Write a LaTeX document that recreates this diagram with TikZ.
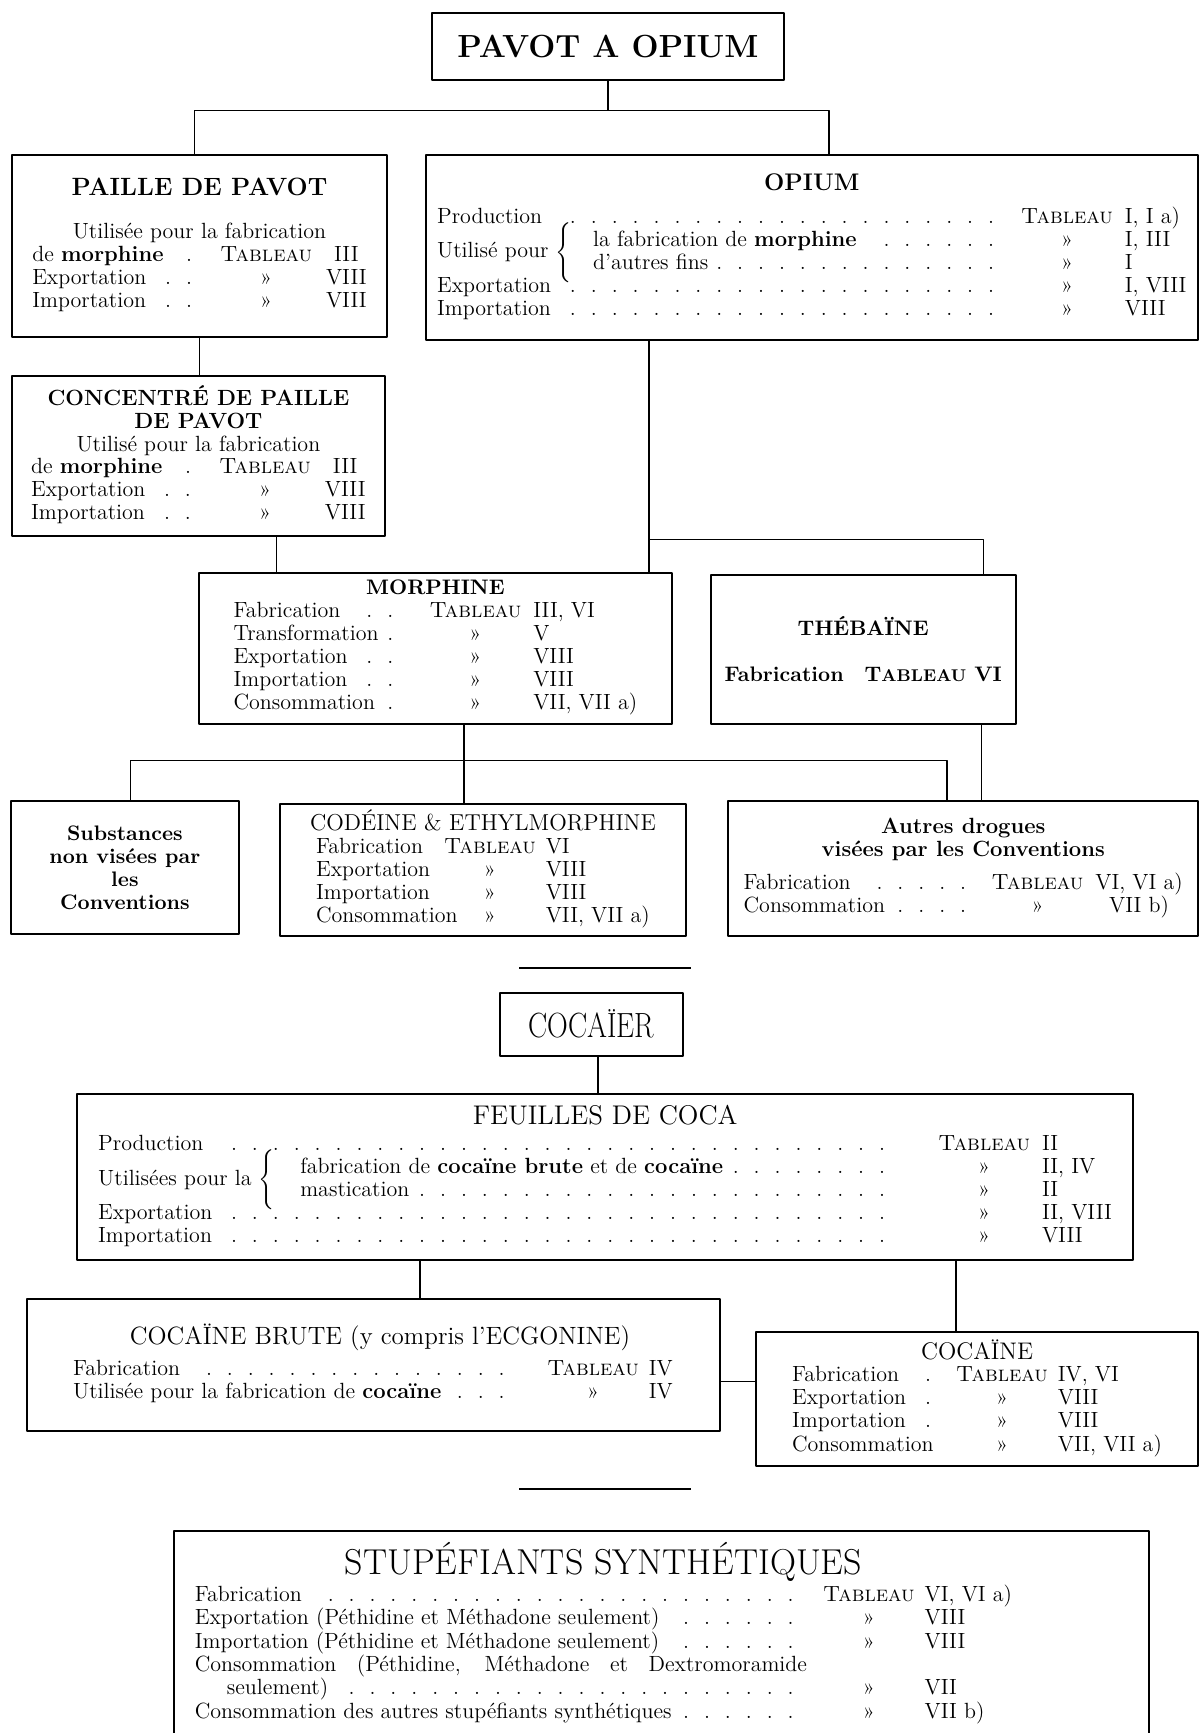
\documentclass[tikz,border=0pt]{standalone}
\usepackage{fontspec}
\usepackage{array}
\usepackage{graphicx}

\newcommand\dpx{0.5525pt}
\newcommand\lead{\leaders\hbox to 0.95em{\hss.\hss}\hfill\kern0pt}
\newcommand\tabl{\textsc{Tableau}}
\newcommand\btabl{T{\fontsize{8.5}{10}\selectfont ABLEAU}}
\newcommand\spbf[1]{{\bfseries\addfontfeature{LetterSpace=5}#1}}
\newcommand\twoway[2]{\makebox[#1][l]{\raisebox{-5.7pt}[0pt][0pt]{#2 $\left\{\vrule height 11pt depth 11pt width 0pt\right.$}}}

\begin{document}
\begin{tikzpicture}[
        x = 0.5525pt, y = -0.5525pt,
        line join = round,
        box/.style = {draw, line width = 1pt, inner sep = 0pt, align = center,
            font = \fontsize{11}{11.45}\selectfont},
        sz/.style 2 args = {minimum width = #1*\dpx, minimum height = #2*\dpx},
        link/.style = {line width = 0.8pt},
        rule/.style = {line width = 1.1pt}
    ]

    \useasboundingbox (0, 0) rectangle (1087, 1568);

    % opium branch
    \node[box, sz = {318}{60}] (pavot) at (550, 42)
        {\fontsize{16}{19}\selectfont\bfseries PAVOT A OPIUM};

    \node[box, sz = {339}{165}] (paille) at (180.5, 222.5) {%
        \begin{tabular}{@{}p{88pt}@{\hspace{6pt}}c@{\hspace{7pt}}c@{}}
            \multicolumn{3}{@{}c@{}}{\fontsize{12.5}{14}\selectfont\bfseries PAILLE DE PAVOT}\\[10pt]
            \multicolumn{3}{@{}c@{}}{Utilisée pour la fabrication}\\
            de \textbf{morphine}\lead & \tabl & III\\
            Exportation\lead & » & VIII\\
            Importation\lead & » & VIII
        \end{tabular}};

    \node[box, sz = {699}{168}] (opium) at (734.5, 224) {%
        \begin{tabular}{@{}p{286pt}@{\hspace{6pt}}c@{\hspace{6pt}}l@{}}
            \multicolumn{3}{@{}c@{}}{\fontsize{12}{14}\selectfont\bfseries OPIUM}\\[5pt]
            Production\lead & \tabl & I, I a)\\
            \twoway{78pt}{Utilisé pour}la fabrication de \textbf{morphine}\lead & » & I, III\\
            \hspace*{78pt}d'autres fins\lead & » & I\\
            Exportation\lead & » & I, VIII\\
            Importation\lead & » & VIII
        \end{tabular}};

    \node[box, sz = {337}{145}] (concentre) at (179.5, 412.5) {%
        \begin{tabular}{@{}p{86pt}@{\hspace{8pt}}c@{\hspace{7pt}}c@{}}
            \multicolumn{3}{@{}c@{}}{\bfseries CONCENTRÉ DE PAILLE}\\
            \multicolumn{3}{@{}c@{}}{\bfseries DE PAVOT}\\
            \multicolumn{3}{@{}c@{}}{Utilisé pour la fabrication}\\
            de \textbf{morphine}\lead & \tabl & III\\
            Exportation\lead & » & VIII\\
            Importation\lead & » & VIII
        \end{tabular}};

    \node[box, sz = {428}{137}] (morphine) at (394, 586.5) {%
        {\fontsize{10.5}{11.45}\selectfont\bfseries MORPHINE}\\
        \begin{tabular}[t]{@{}p{92pt}@{\hspace{6pt}}c@{\hspace{6pt}}l@{}}
            Fabrication\lead & \tabl & III, VI\\
            Transformation\lead & » & V\\
            Exportation\lead & » & VIII\\
            Importation\lead & » & VIII\\
            Consommation\lead & » & VII, VII a)
        \end{tabular}\hspace{14pt}};

    \node[box, sz = {276}{135}, font = \fontsize{10.5}{11.45}\selectfont\bfseries] (thebaine) at (781, 587.5)
        {THÉBAÏNE\\[11.5pt] Fabrication\quad\btabl\ VI};

    \node[box, sz = {206}{120}, font = \fontsize{10.5}{11.6}\selectfont\bfseries\addfontfeature{LetterSpace=5}] (substances) at (113, 785)
        {Substances\\non visées par\\les\\Conventions};

    \node[box, sz = {368}{120}] (codeine) at (437, 787) {%
        {\fontsize{11.5}{11.45}\selectfont\addfontfeature{LetterSpace=3}CODÉINE \& ETHYLMORPHINE}\\
        \begin{tabular}[t]{@{}p{60pt}@{\hspace{4pt}}c@{\hspace{5pt}}l@{}}
            Fabrication\lead & \tabl & VI\\
            Exportation & » & VIII\\
            Importation & » & VIII\\
            Consommation & » & VII, VII a)
        \end{tabular}\hspace{24pt}};

    \node[box, sz = {425}{122}] (autres) at (871.5, 786) {%
        \spbf{Autres drogues}\\
        \spbf{visées par les Conventions}\\[5pt]
        \begin{tabular}[t]{@{}p{118pt}@{\hspace{6pt}}c@{\hspace{6pt}}c@{}}
            Fabrication\lead & \tabl & VI, VI a)\\
            Consommation\lead & » & VII b)
        \end{tabular}};

    \coordinate (jpav) at (550, 100);
    \coordinate (jl) at (176, 100);
    \coordinate (jr) at (750, 100);
    \coordinate (jcm) at (250, 500);
    \coordinate (jom) at (587, 488);
    \coordinate (jot) at (890, 488);
    \coordinate (jmo) at (420, 688);
    \coordinate (jsu) at (118, 688);
    \coordinate (jau) at (857, 688);
    \coordinate (jta) at (888, 700);

    \draw[link] (pavot.south) -- (jpav);
    \draw[link] (paille.north -| jl) -- (jl) -- (jr) -- (opium.north -| jr);
    \draw[link] (paille.south) -- (paille.south |- concentre.north);
    \draw[link] (concentre.south -| jcm) -- (morphine.north -| jcm);
    \draw[link] (opium.south -| jom) -- (morphine.north -| jom);
    \draw[link] (jom) -- (jot) -- (thebaine.north -| jot);
    \draw[link] (morphine.south -| jmo) -- (codeine.north -| jmo);
    \draw[link] (substances.north -| jsu) -- (jsu) -- (jau) -- (autres.north -| jau);
    \draw[link] (thebaine.south -| jta) -- (autres.north -| jta);

    \draw[rule] (470, 876) -- (625, 876);

    % coca branch
    \node[box, sz = {166}{57}] (cocaier) at (535, 926.5)
        {\scalebox{0.82}[1]{\fontsize{17.5}{20}\selectfont COCAÏER}};

    \node[box, sz = {955}{150}] (feuilles) at (547.5, 1065) {%
        \begin{tabular}{@{}p{400pt}@{\hspace{20pt}}c@{\hspace{6pt}}l@{}}
            \multicolumn{3}{@{}c@{}}{\fontsize{13.5}{14}\selectfont FEUILLES DE COCA}\\[2pt]
            Production\lead & \tabl & II\\
            \twoway{101pt}{Utilisées pour la}fabrication de \textbf{cocaïne brute} et de \textbf{cocaïne}\lead & » & II, IV\\
            \hspace*{101pt}mastication\lead & » & II\\
            Exportation\lead & » & II, VIII\\
            Importation\lead & » & VIII
        \end{tabular}};

    \node[box, sz = {627}{120}] (brute) at (337.5, 1235) {%
        \hspace*{7pt}{\fontsize{12.5}{14}\selectfont COCAÏNE BRUTE (y compris l'ECGONINE)}\\[4pt]
        \begin{tabular}[t]{@{}p{220pt}@{\hspace{17pt}}c@{\hspace{5pt}}l@{}}
            Fabrication\lead & \tabl & IV\\
            Utilisée pour la fabrication de \textbf{cocaïne}\lead & » & IV
        \end{tabular}\hspace{26pt}};

    \node[box, sz = {400}{121}] (cocaine) at (884, 1265.5) {%
        \begin{tabular}{@{}p{78pt}@{\hspace{4pt}}c@{\hspace{5pt}}l@{}}
            \multicolumn{3}{@{}c@{}}{\fontsize{12}{14}\selectfont COCAÏNE}\\
            Fabrication\lead & \tabl & IV, VI\\
            Exportation\lead & » & VIII\\
            Importation\lead & » & VIII\\
            Consommation & » & VII, VII a)
        \end{tabular}};

    \coordinate (jcf) at (541, 970);
    \coordinate (jfb) at (380, 1160);
    \coordinate (jfc) at (865, 1160);
    \coordinate (jbc) at (660, 1250);

    \draw[link] (cocaier.south -| jcf) -- (feuilles.north -| jcf);
    \draw[link] (feuilles.south -| jfb) -- (brute.north -| jfb);
    \draw[link] (feuilles.south -| jfc) -- (cocaine.north -| jfc);
    \draw[link] (brute.east |- jbc) -- (cocaine.west |- jbc);

    \draw[rule] (470, 1347) -- (625, 1347);

    % synthetics
    \node[box, sz = {883}{186}] (synth) at (598.5, 1478) {%
        \begin{tabular}{@{}p{306pt}@{\hspace{8pt}}c@{\hspace{5pt}}l@{}}
            \multicolumn{3}{@{}c@{}}{\fontsize{18}{20}\selectfont STUPÉFIANTS SYNTHÉTIQUES}\\[2pt]
            Fabrication\lead & \tabl & VI, VI a)\\
            Exportation (Péthidine et Méthadone seulement)\lead & » & VIII\\
            Importation (Péthidine et Méthadone seulement)\lead & » & VIII\\
            \makebox[306pt][s]{Consommation (Péthidine, Méthadone et Dextromoramide} & & \\
            \hspace*{16pt}seulement)\lead & » & VII\\
            Consommation des autres stupéfiants synthétiques\lead & » & VII b)
        \end{tabular}\hspace{58pt}};

\end{tikzpicture}
\end{document}
